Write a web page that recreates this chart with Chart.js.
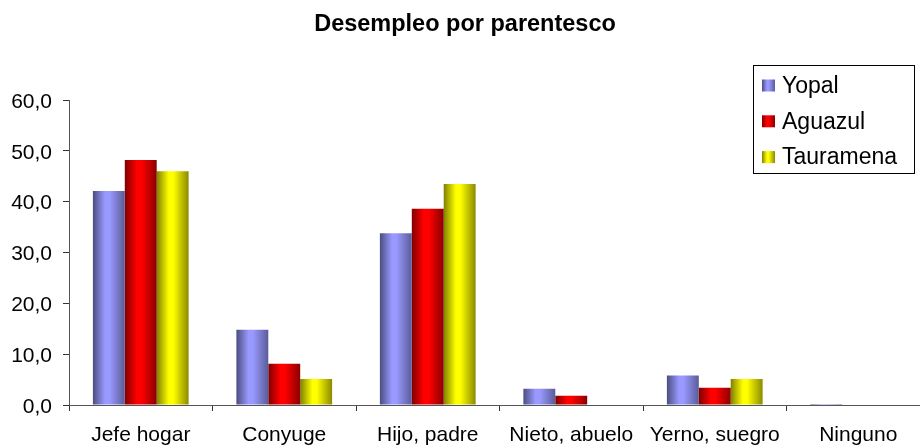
<!DOCTYPE html>
<html>
<head>
<meta charset="utf-8">
<script src="https://cdn.jsdelivr.net/npm/chart.js@4/dist/chart.umd.min.js"></script>
<style>
  html, body { margin: 0; padding: 0; background: #ffffff; overflow: hidden; }
  #wrap { position: relative; width: 936px; height: 447px; }
</style>
</head>
<body>
<div id="wrap"><canvas id="c"></canvas></div>
<script>
// ---- data ----
const categories = ['Jefe hogar', 'Conyuge', 'Hijo, padre', 'Nieto, abuelo', 'Yerno, suegro', 'Ninguno'];
const seriesNames = ['Yopal', 'Aguazul', 'Tauramena'];
const yopal     = [42.1, 14.8, 33.8, 3.2, 5.8, 0.2];
const aguazul   = [48.2, 8.1, 38.6, 1.8, 3.4, 0];
const tauramena = [46.0, 5.1, 43.5, 0, 5.1, 0];
const yTicks    = [0, 10, 20, 30, 40, 50, 60];
const titleText = 'Desempleo por parentesco';

// ---- styles ----
const shades = [
  { dark: '#4b4d80', light: '#9999ff', edge: '#5a5c98' },
  { dark: '#800000', light: '#ff0000', edge: '#8a0000' },
  { dark: '#808000', light: '#ffff00', edge: '#8a8a00' }
];
const CAT_PCT = 0.667;
const FONT = "'Liberation Sans', Arial, sans-serif";

function makeGrad(c2d, left, w, s) {
  const g = c2d.createLinearGradient(left, 0, left + w, 0);
  g.addColorStop(0, s.dark);
  g.addColorStop(0.38, s.light);
  g.addColorStop(0.52, s.light);
  g.addColorStop(1, s.edge);
  return g;
}

function barColor(ctx) {
  const chart = ctx.chart;
  const s = shades[ctx.datasetIndex];
  const xs = chart.scales && chart.scales.x;
  if (!xs || ctx.dataIndex === undefined || !chart.chartArea) return s.light;
  const n = chart.data.labels.length;
  const center = xs.getPixelForValue(ctx.dataIndex);
  const catW = xs.width / n;
  const groupW = catW * CAT_PCT;
  const barW = groupW / chart.data.datasets.length;
  const left = center - groupW / 2 + ctx.datasetIndex * barW;
  return makeGrad(chart.ctx, left, barW, s);
}

const legendPlugin = {
  id: 'boxLegend',
  afterDraw(chart) {
    const c = chart.ctx;
    const bx = 753, by = 65, bw = 161, bh = 108;
    c.save();
    c.fillStyle = '#ffffff';
    c.fillRect(bx, by, bw, bh);
    c.strokeStyle = '#000000';
    c.lineWidth = 1;
    c.strokeRect(bx + 0.5, by + 0.5, bw, bh);
    c.font = '23px ' + FONT;
    c.textBaseline = 'middle';
    chart.data.datasets.forEach((ds, i) => {
      const cy = 85.5 + i * 35.8;
      const sx = 762, sw = 13, sh = 12;
      c.fillStyle = makeGrad(c, sx, sw, shades[i]);
      c.fillRect(sx, cy - sh / 2, sw, sh);
      c.fillStyle = '#000000';
      c.fillText(ds.label, 782, cy + 1);
    });
    c.restore();
  }
};

const datasets = [yopal, aguazul, tauramena].map((vals, i) => ({
  label: seriesNames[i],
  data: vals,
  backgroundColor: barColor,
  borderWidth: 0,
  barPercentage: 1.0,
  categoryPercentage: CAT_PCT
}));

new Chart(document.getElementById('c'), {
  type: 'bar',
  data: { labels: categories, datasets },
  options: {
    responsive: true,
    maintainAspectRatio: false,
    animation: false,
    events: [],
    layout: { padding: { left: 0, right: 6, top: 0, bottom: 0 } },
    plugins: {
      legend: { display: false },
      tooltip: { enabled: false },
      title: {
        display: true,
        text: titleText,
        color: '#000000',
        font: { family: FONT, size: 23.5, weight: 'bold', lineHeight: 1.2 },
        padding: { top: 10, bottom: 61.8 }
      }
    },
    scales: {
      x: {
        offset: true,
        afterFit(scale) { scale.height = 42; },
        grid: { display: true, drawOnChartArea: false, drawTicks: true, tickLength: 6, color: '#333333', offset: true },
        border: { display: true, color: '#555555', width: 1 },
        ticks: { color: '#000000', font: { family: FONT, size: 21 }, padding: 12, maxRotation: 0, autoSkip: false }
      },
      y: {
        min: 0,
        max: 60,
        afterFit(scale) { scale.width = 69; },
        afterBuildTicks(scale) { scale.ticks = yTicks.map(v => ({ value: v })); },
        grid: { display: true, drawOnChartArea: false, drawTicks: true, tickLength: 6, color: '#333333' },
        border: { display: true, color: '#555555', width: 1 },
        ticks: {
          color: '#000000',
          font: { family: FONT, size: 21 },
          padding: 11,
          labelOffset: 2,
          callback: v => v.toFixed(1).replace('.', ',')
        }
      }
    }
  },
  plugins: [legendPlugin]
});
</script>
</body>
</html>
